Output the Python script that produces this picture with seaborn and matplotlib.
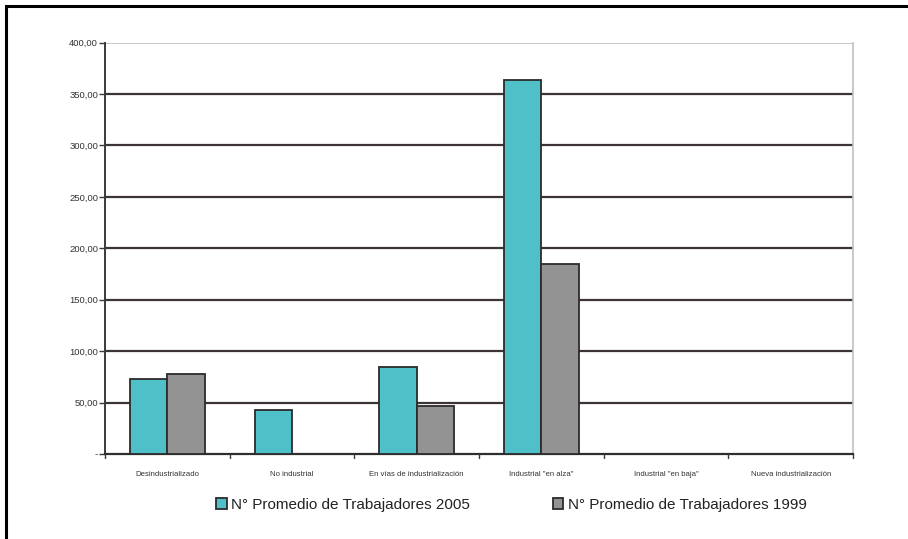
import pandas as pd
import seaborn as sns
import matplotlib.pyplot as plt
from matplotlib.patches import Rectangle

categorias = ['Desindustrializado', 'No industrial', 'En vías de industrialización',
              'Industrial "en alza"', 'Industrial "en baja"', 'Nueva industrialización']
trabajadores_2005 = [72.7, 42.5, 84.9, 364.0, None, None]
trabajadores_1999 = [77.5, None, 47.0, 184.5, None, None]
series = ['N° Promedio de Trabajadores 2005', 'N° Promedio de Trabajadores 1999']
y_ticks = [0, 50, 100, 150, 200, 250, 300, 350, 400]
y_labels = ['-', '50,00', '100,00', '150,00', '200,00', '250,00', '300,00', '350,00', '400,00']

df = pd.DataFrame({
    'categoria': categorias * 2,
    'valor': trabajadores_2005 + trabajadores_1999,
    'serie': [series[0]] * len(categorias) + [series[1]] * len(categorias),
})

sns.set_style("white")
plt.rcParams['font.family'] = ['Liberation Sans', 'DejaVu Sans']

fig = plt.figure(figsize=(9.08, 5.39), dpi=100)
ax = fig.add_axes([0.1156, 0.1577, 0.8238, 0.7634])

sns.barplot(data=df, x='categoria', y='valor', hue='serie', order=categorias,
            hue_order=series, palette=['#4fbfc8', '#939393'], width=0.6,
            edgecolor='#2b2b2b', linewidth=1.3, saturation=1, ax=ax, zorder=3)

ax.set_ylim(0, 400)
ax.set_xlim(-0.5, len(categorias) - 0.5)
ax.set_yticks(y_ticks)
ax.set_yticklabels(y_labels, fontsize=6.8, color='#333333')
ax.set_xticks(range(len(categorias)))
ax.set_xticklabels(categorias, fontsize=5.6, color='#333333')
ax.tick_params(axis='x', length=0, pad=12)
ax.tick_params(axis='y', length=4, width=1, color='#3a3a3a', direction='out', pad=1)
ax.yaxis.set_ticks_position('left')
ax.set_xlabel('')
ax.set_ylabel('')

# separadores de categoria en el eje x
for b in range(len(categorias) + 1):
    ax.plot([b - 0.5, b - 0.5], [0, -4], color='#3a3a3a', lw=1, clip_on=False, zorder=4)

for v in y_ticks[1:-1]:
    ax.axhline(v, color='#3d3535', lw=1.6, zorder=1)
ax.axhline(400, color='#c8c8c8', lw=1.4, zorder=1)

ax.spines['top'].set_visible(False)
ax.spines['right'].set_color('#c0c0c0')
ax.spines['right'].set_linewidth(1.2)
ax.spines['left'].set_color('#3a3a3a')
ax.spines['left'].set_linewidth(1.4)
ax.spines['bottom'].set_color('#2e2e2e')
ax.spines['bottom'].set_linewidth(1.6)

ax.legend(loc='center', bbox_to_anchor=(0.5633, 0.063), bbox_transform=fig.transFigure,
          ncol=2, frameon=False, fontsize=11, handlelength=0.7, handleheight=0.7,
          handletextpad=0.3, columnspacing=5.4)
for t in ax.get_legend().get_texts():
    t.set_color('#222222')

# marco exterior
fig.patches.append(Rectangle((6 / 908, -0.1), 1.2, 1 - 6 / 539 + 0.1, transform=fig.transFigure,
                             fill=False, edgecolor='black', lw=2.2))

fig.savefig('out.png', dpi=100)
